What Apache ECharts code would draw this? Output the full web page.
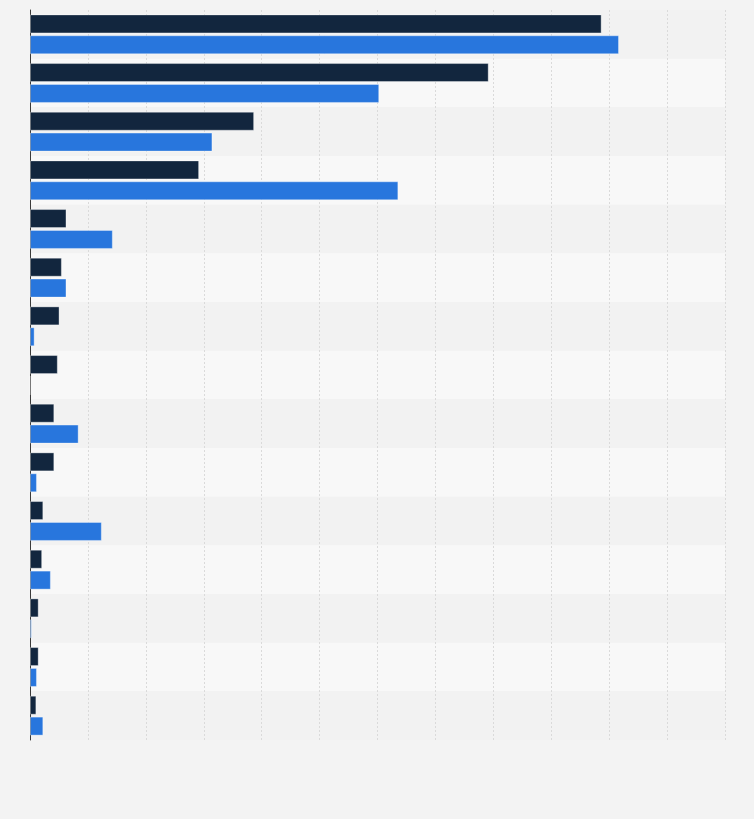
<!DOCTYPE html>
<html>
<head>
<meta charset="utf-8">
<script src="https://cdn.jsdelivr.net/npm/echarts@6/dist/echarts.min.js"></script>
<style>
html,body{margin:0;padding:0;background:#f3f3f3;}
#chart{width:754px;height:819px;}
</style>
</head>
<body>
<div id="chart"></div>
<script>
var categories = ['1','2','3','4','5','6','7','8','9','10','11','12','13','14','15'];
var seriesDark = [9.87, 7.92, 3.87, 2.92, 0.63, 0.55, 0.51, 0.48, 0.42, 0.42, 0.23, 0.21, 0.15, 0.15, 0.11];
var seriesBlue = [10.17, 6.03, 3.15, 6.36, 1.43, 0.63, 0.08, 0, 0.84, 0.12, 1.24, 0.36, 0.03, 0.12, 0.23];
var axisMax = 12;
var axisInterval = 1;

var chart = echarts.init(document.getElementById('chart'), null, {renderer: 'canvas'});
chart.setOption({
  backgroundColor: '#f3f3f3',
  animation: false,
  grid: {left: 30, right: 29, top: 10, bottom: 79, containLabel: false},
  xAxis: {
    type: 'value',
    min: 0,
    max: axisMax,
    interval: axisInterval,
    axisLabel: {show: false},
    axisTick: {show: false},
    axisLine: {show: false},
    splitLine: {show: true, lineStyle: {color: '#dadada', type: [2, 2], width: 1}}
  },
  yAxis: {
    type: 'category',
    data: categories,
    inverse: true,
    axisLabel: {show: false},
    axisTick: {show: false},
    axisLine: {show: true, lineStyle: {color: '#3a3a3a', width: 1}},
    splitLine: {show: false},
    splitArea: {show: true, areaStyle: {color: ['#f2f2f2', '#f8f8f8']}}
  },
  series: [
    {
      type: 'bar',
      data: seriesDark,
      barWidth: 19,
      barGap: '10%',
      itemStyle: {color: '#12263e', borderColor: 'rgba(255,255,255,0.35)', borderWidth: 1}
    },
    {
      type: 'bar',
      data: seriesBlue,
      barWidth: 19,
      barGap: '10%',
      itemStyle: {color: '#2876dd', borderColor: 'rgba(255,255,255,0.35)', borderWidth: 1}
    }
  ]
});
</script>
</body>
</html>
